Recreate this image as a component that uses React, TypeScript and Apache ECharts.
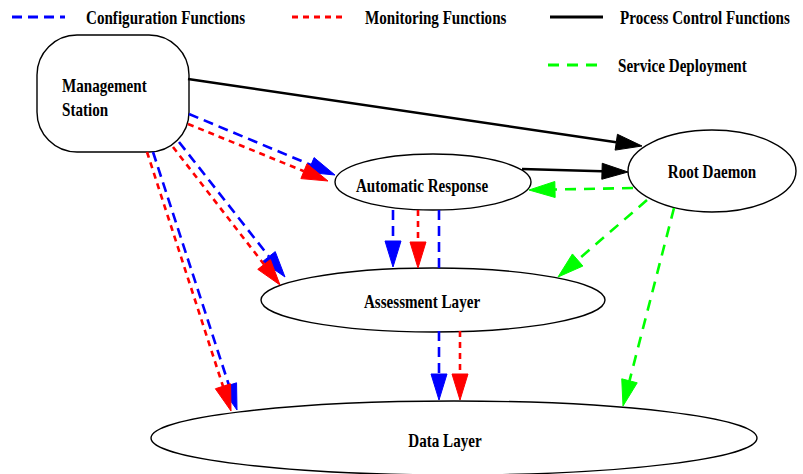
import React, { useEffect, useRef } from "react";
import * as echarts from "echarts";

// ---- Diagram data (in a 803 x 474 data space) ----
const nodeNames = ["Management\nStation", "Automatic Response", "Root Daemon", "Assessment Layer", "Data Layer"];
const nodeCX = [113, 433, 712, 433, 454];
const nodeCY = [93.5, 182, 171, 300, 438];
const nodeRX = [76, 98, 84, 172, 303];
const nodeRY = [58.5, 28, 41, 32, 37];
const nodeShape = ["roundRect", "ellipse", "ellipse", "ellipse", "ellipse"];
const labelX = [62, 422, 712, 422, 445];
const labelY = [98, 186, 172, 302, 441];

// edges: [x1, y1, x2, y2, hasArrow]
const configEdges = [
  [189, 114, 335, 175, 1],
  [179, 142, 285, 277, 1],
  [153, 152, 237, 410, 1],
  [393, 210, 393, 267, 1],
  [439, 268, 439, 210, 0],
  [439, 331, 439, 400, 1],
];
const monitorEdges = [
  [188, 124, 328, 181, 1],
  [173, 147, 280, 285, 1],
  [147, 152, 231, 411, 1],
  [418, 210, 418, 268, 1],
  [460, 331, 460, 400, 1],
];
const controlEdges = [
  [188, 79, 642, 146, 1],
  [522, 169, 628, 172, 1],
];
const deployEdges = [
  [633, 188, 529, 190, 1],
  [647, 200, 558, 277, 1],
  [674, 208, 623, 406, 1],
];

const seriesNames = ["Configuration Functions", "Monitoring Functions", "Process Control Functions", "Service Deployment"];
const seriesEdges = [configEdges, monitorEdges, controlEdges, deployEdges];

// styles
const seriesColors = ["#0000ff", "#ff0000", "#000000", "#00ff00"];
const seriesDash: (number[] | null)[] = [[10, 6], [6, 5], null, [11, 8]];
const FONT = "Liberation Serif";
const FONT_SIZE = 18;
const TEXT_SCALE_X = 0.84;
const ARROW_L = 26;
const ARROW_W = 16;

function edgeRenderer(color: string, dash: number[] | null) {
  return (_params: any, api: any) => {
    const p1 = api.coord([api.value(0), api.value(1)]);
    const p2 = api.coord([api.value(2), api.value(3)]);
    const arrow = api.value(4) > 0;
    const dx = p2[0] - p1[0];
    const dy = p2[1] - p1[1];
    const len = Math.hypot(dx, dy) || 1;
    const ux = dx / len;
    const uy = dy / len;
    const bx = arrow ? p2[0] - ux * ARROW_L : p2[0];
    const by = arrow ? p2[1] - uy * ARROW_L : p2[1];
    const nx = -uy;
    const ny = ux;
    const children: any[] = [
      {
        type: "line",
        shape: { x1: p1[0], y1: p1[1], x2: bx, y2: by },
        style: { stroke: color, lineWidth: 2.6, lineDash: dash || undefined, fill: null },
      },
    ];
    if (arrow) {
      children.push({
        type: "polygon",
        shape: {
          points: [
            [p2[0], p2[1]],
            [bx + (nx * ARROW_W) / 2, by + (ny * ARROW_W) / 2],
            [bx - (nx * ARROW_W) / 2, by - (ny * ARROW_W) / 2],
          ],
        },
        style: { fill: color, stroke: color, lineWidth: 1 },
      });
    }
    return { type: "group", children };
  };
}

export default function App() {
  const ref = useRef<HTMLDivElement>(null);
  useEffect(() => {
    if (!ref.current) return;
    const chart = echarts.init(ref.current, null, { renderer: "svg" });

    const nodeData = nodeNames.map((n, i) => ({
      name: n,
      value: [nodeCX[i], nodeCY[i], nodeRX[i], nodeRY[i], i],
    }));

    const nodeSeries = {
      type: "custom",
      name: "nodes",
      coordinateSystem: "cartesian2d",
      z: 1,
      data: nodeData,
      renderItem: (_params: any, api: any) => {
        const i = api.value(4);
        const c = api.coord([api.value(0), api.value(1)]);
        const s = api.size([api.value(2), api.value(3)]);
        const rx = s[0];
        const ry = s[1];
        const lp = api.coord([labelX[i], labelY[i]]);
        const shapeEl =
          nodeShape[i] === "roundRect"
            ? {
                type: "rect",
                shape: { x: c[0] - rx, y: c[1] - ry, width: rx * 2, height: ry * 2, r: 40 },
                style: { fill: "#ffffff", stroke: "#000000", lineWidth: 1.4 },
              }
            : {
                type: "ellipse",
                shape: { cx: c[0], cy: c[1], rx, ry },
                style: { fill: "#ffffff", stroke: "#000000", lineWidth: 1.4 },
              };
        const isLeft = nodeShape[i] === "roundRect";
        return {
          type: "group",
          children: [
            shapeEl,
            {
              type: "text",
              x: lp[0],
              y: lp[1],
              scaleX: TEXT_SCALE_X,
              style: {
                text: nodeNames[i],
                fill: "#000000",
                font: `bold ${FONT_SIZE}px "${FONT}"`,
                align: isLeft ? "left" : "center",
                verticalAlign: "middle",
                lineHeight: 24,
              },
            },
          ],
        };
      },
    };

    const edgeSeries = seriesNames.map((name, k) => ({
      type: "custom",
      name,
      coordinateSystem: "cartesian2d",
      z: 2 + k,
      data: seriesEdges[k],
      renderItem: edgeRenderer(seriesColors[k], seriesDash[k]),
    }));

    // legend drawn with graphic elements
    const legendLineX = [12, 292, 550, 548];
    const legendTextX = [86, 365, 620, 618];
    const legendY = [17, 17, 17, 65];
    const legendGraphics: any[] = [];
    seriesNames.forEach((name, k) => {
      legendGraphics.push({
        type: "line",
        shape: { x1: legendLineX[k], y1: legendY[k], x2: legendLineX[k] + 53, y2: legendY[k] },
        style: { stroke: seriesColors[k], lineWidth: 2.8, lineDash: seriesDash[k] || undefined },
      });
      legendGraphics.push({
        type: "text",
        x: legendTextX[k],
        y: legendY[k] + 1,
        scaleX: TEXT_SCALE_X,
        style: {
          text: name,
          fill: "#000000",
          font: `bold ${FONT_SIZE}px "${FONT}"`,
          align: "left",
          verticalAlign: "middle",
        },
      });
    });

    chart.setOption({
      animation: false,
      backgroundColor: "#ffffff",
      grid: { left: 0, right: 0, top: 0, bottom: 0 },
      xAxis: { type: "value", min: 0, max: 803, show: false },
      yAxis: { type: "value", min: 0, max: 474, inverse: true, show: false },
      graphic: legendGraphics,
      series: [nodeSeries, ...edgeSeries],
    });
    return () => chart.dispose();
  }, []);

  return (
    <div
      ref={ref}
      style={{ position: "absolute", left: 0, top: 0, width: 803, height: 474 }}
    />
  );
}
